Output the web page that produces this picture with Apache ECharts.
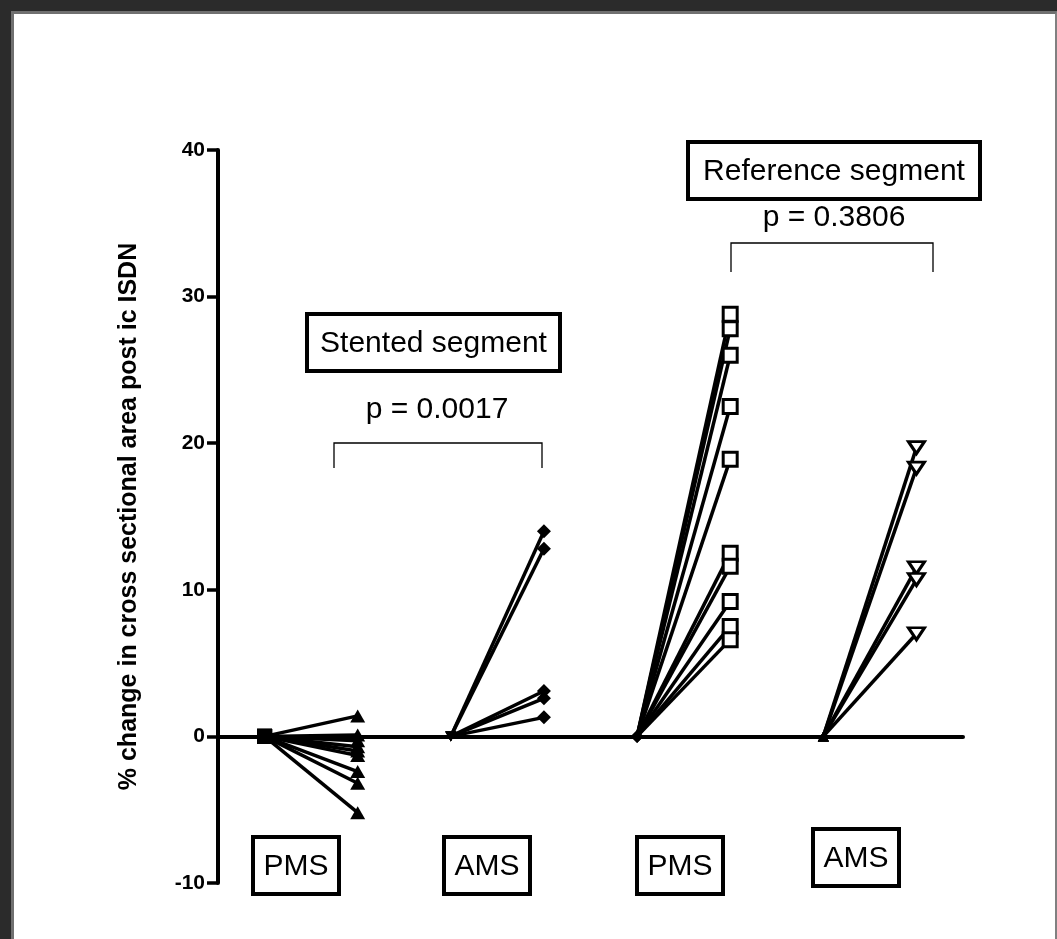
<!DOCTYPE html>
<html>
<head>
<meta charset="utf-8">
<script src="https://cdn.jsdelivr.net/npm/echarts@6/dist/echarts.min.js"></script>
<style>
  html, body { margin: 0; padding: 0; background: #2b2b2b; }
  #sheet {
    position: absolute; left: 11px; top: 11px; right: 0; bottom: 0;
    background: #fff; box-sizing: border-box;
    border-left: 3px solid #707070; border-top: 3px solid #707070;
    border-right: 2px solid #808080;
  }
  #chart { position: absolute; left: 0; top: 0; width: 1057px; height: 939px; }
</style>
</head>
<body>
<div id="sheet"></div>
<div id="chart"></div>
<script>
// x positions (baseline / post for each group)
var categories = ['stent PMS 0', 'stent PMS', 'stent AMS 0', 'stent AMS',
                  'ref PMS 0', 'ref PMS', 'ref AMS 0', 'ref AMS'];
var yTicks = [-10, 0, 10, 20, 30, 40];

// % change
var stentPMS = [1.4, 0.1, -0.3, -0.7, -1.0, -1.3, -2.4, -3.2, -5.2];
var stentAMS = [14.0, 12.8, 3.1, 2.6, 1.3];
var refPMS = [28.8, 27.8, 26.0, 22.5, 18.9, 12.5, 11.6, 9.2, 7.5, 6.6];
var refAMS = [19.7, 18.3, 11.5, 10.7, 7.0];

var FONT = '"Liberation Sans", Arial, sans-serif';

function merge(a, b) { for (var k in b) a[k] = b[k]; return a; }

// one line per subject: baseline 0 -> post value
function pairs(values, x0, sym0, sym1) {
    var out = [];
    values.forEach(function (v) {
        out.push({
            type: 'line',
            silent: true,
            animation: false,
            lineStyle: { color: '#000', width: 3.5 },
            data: [
                merge({ value: [x0, 0] }, sym0),
                merge({ value: [x0 + 1, v] }, sym1)
            ]
        });
    });
    return out;
}

var filled = { color: '#000', borderColor: '#000', borderWidth: 0 };
var open = { color: '#fff', borderColor: '#000', borderWidth: 3 };

var series = [].concat(
    pairs(stentPMS, 0,
        { symbol: 'rect', symbolSize: 15, itemStyle: filled },
        { symbol: 'triangle', symbolSize: [15, 13], itemStyle: filled }),
    pairs(stentAMS, 2,
        { symbol: 'triangle', symbolSize: [11, 10], symbolRotate: 180, itemStyle: filled },
        { symbol: 'diamond', symbolSize: 14, itemStyle: filled }),
    pairs(refPMS, 4,
        { symbol: 'diamond', symbolSize: 12, itemStyle: filled },
        { symbol: 'rect', symbolSize: 14, itemStyle: open }),
    pairs(refAMS, 6,
        { symbol: 'triangle', symbolSize: [11, 10], itemStyle: filled },
        { symbol: 'triangle', symbolSize: [16, 12], symbolRotate: 180, itemStyle: open })
);

function box(x, y, w, h, label) {
    return [
        { type: 'rect', shape: { x: x, y: y, width: w, height: h },
          style: { fill: '#fff', stroke: '#000', lineWidth: 4 }, z: 10 },
        { type: 'text', x: x + w / 2, y: y + h / 2 + 1, z: 11,
          style: { text: label, fill: '#000', font: '30px ' + FONT,
                   align: 'center', verticalAlign: 'middle' } }
    ];
}
function bracket(x1, x2, y, drop) {
    return { type: 'polyline', z: 10,
        shape: { points: [[x1, y + drop], [x1, y], [x2, y], [x2, y + drop]] },
        style: { stroke: '#000', lineWidth: 1.3, fill: null } };
}
function plain(x, y, label) {
    return { type: 'text', x: x, y: y, z: 11,
        style: { text: label, fill: '#000', font: '30px ' + FONT,
                 align: 'center', verticalAlign: 'middle' } };
}

var graphics = [].concat(
    box(307, 314, 253, 57, 'Stented segment'),
    [plain(437, 410, 'p = 0.0017'), bracket(334, 542, 443, 25)],
    box(688, 142, 292, 57, 'Reference segment'),
    [plain(834, 218, 'p = 0.3806'), bracket(731, 933, 243, 29)],
    box(253, 837, 86, 57, 'PMS'),
    box(444, 837, 86, 57, 'AMS'),
    box(637, 837, 86, 57, 'PMS'),
    box(813, 829, 86, 57, 'AMS')
);

var option = {
    backgroundColor: 'transparent',
    animation: false,
    grid: { left: 218, right: 94, top: 150, bottom: 56 },
    xAxis: {
        type: 'category',
        data: categories,
        boundaryGap: true,
        axisLine: { onZero: true, lineStyle: { color: '#000', width: 4 } },
        axisTick: { alignWithLabel: true, length: 9, lineStyle: { color: '#000', width: 3.5 } },
        axisLabel: { show: false },
        splitLine: { show: false }
    },
    yAxis: {
        type: 'value',
        min: yTicks[0],
        max: yTicks[yTicks.length - 1],
        interval: 10,
        name: '% change in cross sectional area post ic ISDN',
        nameLocation: 'middle',
        nameRotate: 90,
        nameGap: 76,
        nameTextStyle: { color: '#000', fontSize: 25, fontWeight: 'bold', fontFamily: FONT },
        axisLine: { show: true, onZero: false, lineStyle: { color: '#000', width: 4 } },
        axisTick: { show: true, length: 11, lineStyle: { color: '#000', width: 3.5 } },
        axisLabel: { color: '#000', fontSize: 21, fontWeight: 'bold', fontFamily: FONT, margin: 13 },
        splitLine: { show: false }
    },
    series: series,
    graphic: graphics
};

var myChart = echarts.init(document.getElementById('chart'));
myChart.setOption(option);
</script>
</body>
</html>
